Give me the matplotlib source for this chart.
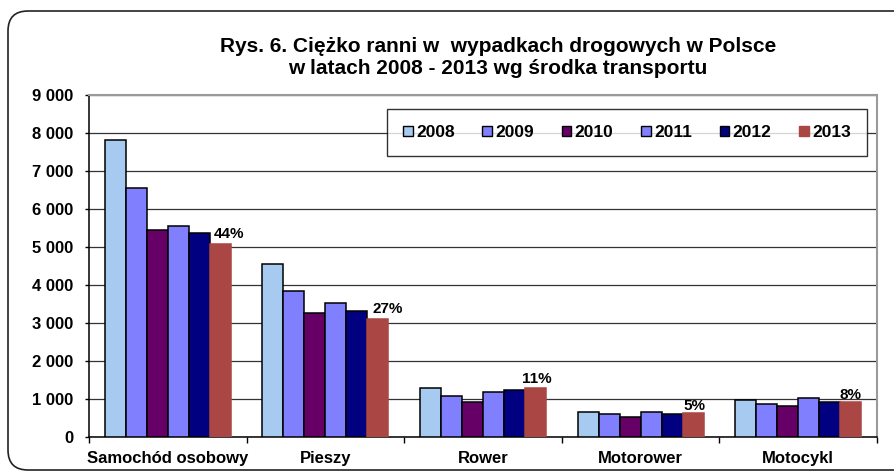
import numpy as np
import matplotlib
matplotlib.use("Agg")
import matplotlib.pyplot as plt
from matplotlib.patches import FancyBboxPatch, Patch
from matplotlib.ticker import FuncFormatter, FixedLocator

plt.rcParams['font.family'] = ['Liberation Sans', 'DejaVu Sans']
plt.rcParams['font.weight'] = 'bold'

# data
categories = ["Samochód osobowy", "Pieszy", "Rower", "Motorower", "Motocykl"]
years = ["2008", "2009", "2010", "2011", "2012", "2013"]
v2008 = [7800, 4540, 1280, 650, 960]
v2009 = [6550, 3840, 1080, 590, 870]
v2010 = [5440, 3260, 905, 530, 810]
v2011 = [5550, 3520, 1175, 640, 1025]
v2012 = [5360, 3320, 1220, 605, 915]
v2013 = [5080, 3095, 1290, 630, 910]
share_2013 = ["44%", "27%", "11%", "5%", "8%"]

series = [v2008, v2009, v2010, v2011, v2012, v2013]
colors = ["#A6CAF0", "#8080FF", "#660066", "#8080FF", "#000080", "#AA4643"]

W, H = 894, 473
fig = plt.figure(figsize=(W / 100, H / 100), dpi=100)

# rounded chart frame (inches, runs off the right edge like the source)
frame = FancyBboxPatch((0.08, 0.03), 12.0, 4.59,
                       boxstyle="round,pad=0,rounding_size=0.2",
                       transform=fig.dpi_scale_trans, facecolor="white",
                       edgecolor="#222222", linewidth=1.2, zorder=-10)
fig.patches.append(frame)

ax = fig.add_axes([89 / W, (H - 436.7) / H, (877 - 89) / W, (436.7 - 94.7) / H])
ax.set_facecolor("none")

n = len(series)
group = 0.8
bw = group / n
x = np.arange(len(categories))
for i, (vals, c) in enumerate(zip(series, colors)):
    pos = x - group / 2 + bw * (i + 0.5)
    ec = "black" if i < n - 1 else c
    ax.bar(pos, vals, width=bw, color=c, edgecolor=ec, linewidth=1.1, zorder=3)

# percentage labels above 2013 bars
last = x - group / 2 + bw * (n - 0.5)
dx = [6, 7, 1, 1, 0]
dy = [2, 2, 1, 0, 0]
for xi, yi, lab, ox, oy in zip(last, v2013, share_2013, dx, dy):
    ax.annotate(lab, (xi, yi), xytext=(ox, oy), textcoords="offset points",
                ha="center", va="bottom", fontsize=11, fontweight="bold")

ax.set_xlim(-0.5, len(categories) - 0.5)
ax.set_ylim(0, 9000)
ax.yaxis.set_major_locator(FixedLocator(np.arange(0, 9001, 1000)))
ax.yaxis.set_major_formatter(FuncFormatter(lambda v, p: f"{int(v):,}".replace(",", " ")))
ax.grid(axis="y", color="#333333", linewidth=0.9, zorder=1)
ax.set_axisbelow(True)

ax.set_xticks(x)
ax.set_xticklabels(categories, fontsize=12, fontweight="bold")
ax.set_xticks(np.arange(-0.5, len(categories) + 0.5, 1), minor=True)
ax.tick_params(axis="x", which="major", length=0, pad=10)
ax.tick_params(axis="x", which="minor", length=4, width=1, direction="out")
ax.tick_params(axis="y", length=3, width=1, direction="out", labelsize=12, pad=8)
for lab in ax.get_yticklabels():
    lab.set_fontweight("bold")

for side in ["left", "bottom"]:
    ax.spines[side].set_color("black")
    ax.spines[side].set_linewidth(1.1)
for side in ["top", "right"]:
    ax.spines[side].set_color("#9a9a9a")
    ax.spines[side].set_linewidth(1.5)

fig.text(498 / W, 1 - 46 / H, "Rys. 6. Ciężko ranni w  wypadkach drogowych w Polsce",
         ha="center", va="center", fontsize=15, fontweight="bold")
fig.text(498 / W, 1 - 68 / H, "w latach 2008 - 2013 wg środka transportu",
         ha="center", va="center", fontsize=15, fontweight="bold")

handles = [Patch(facecolor=c, edgecolor=("black" if i < n - 1 else c), linewidth=1.0)
           for i, c in enumerate(colors)]
leg = fig.legend(handles, years, ncol=6, mode="expand",
                 bbox_to_anchor=(387 / W, 1 - 157 / H, 480 / W, 49 / H),
                 loc="center", frameon=True, fancybox=False,
                 handlelength=0.55, handleheight=0.55, handletextpad=0.2,
                 borderaxespad=0, borderpad=0.92,
                 prop={"size": 12.5, "weight": "bold"})
leg.get_frame().set_edgecolor("black")
leg.get_frame().set_linewidth(1.0)

fig.savefig("out.png", dpi=100)
